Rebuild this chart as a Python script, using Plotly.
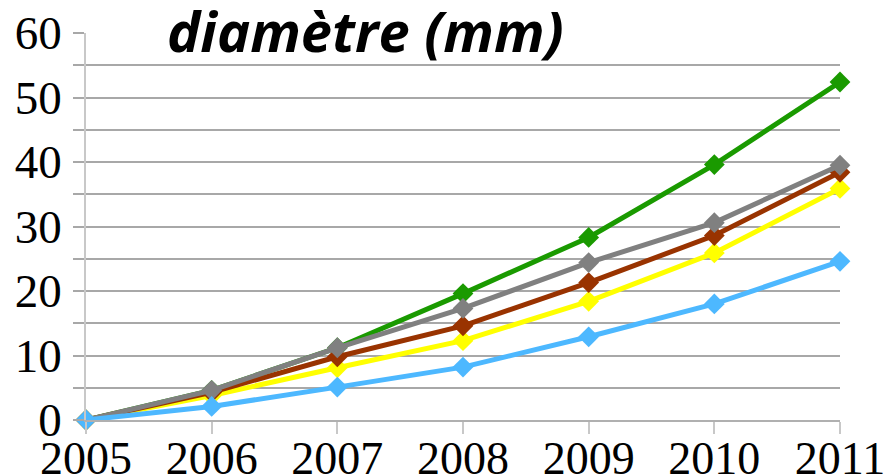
import plotly.graph_objects as go

years = [2005, 2006, 2007, 2008, 2009, 2010, 2011]
green = [0, 4.6, 11.2, 19.6, 28.3, 39.6, 52.4]
gray = [0, 4.6, 11.2, 17.3, 24.4, 30.6, 39.5]
brown = [0, 4.3, 9.8, 14.6, 21.3, 28.6, 38.4]
yellow = [0, 3.8, 8.1, 12.3, 18.4, 25.9, 35.9]
blue = [0, 2.1, 5.1, 8.2, 12.9, 18.0, 24.6]
y_ticks = [0, 5, 10, 15, 20, 25, 30, 35, 40, 45, 50, 55, 60]
y_labels = ["0", "", "10", "", "20", "", "30", "", "40", "", "50", "", "60"]
title_text = "diamètre (mm)"

series = [
    ("vert", green, "#1a9a00"),
    ("jaune", yellow, "#ffff00"),
    ("marron", brown, "#993300"),
    ("gris", gray, "#808080"),
    ("bleu", blue, "#4db8ff"),
]

fig = go.Figure()
for name, vals, col in series:
    fig.add_trace(go.Scatter(
        x=years, y=vals, name=name, mode="lines+markers",
        line=dict(color=col, width=5),
        marker=dict(symbol="diamond", size=16, color=col),
        cliponaxis=False,
    ))

# page has an 8px body margin; compensate so plot area sits at x 86..840, y 33..420
OFF = 8
W, H = 893 - OFF, 475 - OFF
L, T = 86 - OFF, 33 - OFF
R = 893 - 840
B = H - T - 387
fig.update_layout(
    width=W, height=H,
    margin=dict(l=L, r=R, t=T, b=B, pad=0, autoexpand=False),
    plot_bgcolor="white", paper_bgcolor="white",
    showlegend=False,
    font=dict(family="Liberation Serif", color="black"),
)
fig.update_xaxes(
    range=[2005, 2011], tickvals=years, ticktext=[str(y) for y in years],
    showgrid=False, zeroline=False, automargin=False,
    showline=True, linecolor="#b0b0b0", linewidth=1.5,
    ticks="outside", ticklen=12, tickcolor="#c8c8c8", tickwidth=1.5,
    tickfont=dict(family="Liberation Serif", size=46, color="black"),
    ticklabelstandoff=-15, ticklabeloverflow="allow",
)
fig.update_yaxes(
    range=[0, 60], tickvals=y_ticks, ticktext=y_labels,
    showgrid=True, gridcolor="#a8a8a8", gridwidth=1.5,
    zeroline=False, automargin=False,
    showline=True, linecolor="#c8c8c8", linewidth=1.5,
    ticks="outside", ticklen=11, tickcolor="#a8a8a8", tickwidth=1.5,
    tickfont=dict(family="Liberation Serif", size=47, color="black"),
    ticklabelstandoff=2, ticklabeloverflow="allow",
)
fig.add_annotation(
    text=title_text, xref="paper", yref="paper",
    x=(165 - 86) / 754, y=(420 - 30) / 387,
    xanchor="left", yanchor="middle", showarrow=False,
    font=dict(family="Open Sans", size=56, color="black", weight="bold", style="italic"),
)
fig.write_html("out.html")
